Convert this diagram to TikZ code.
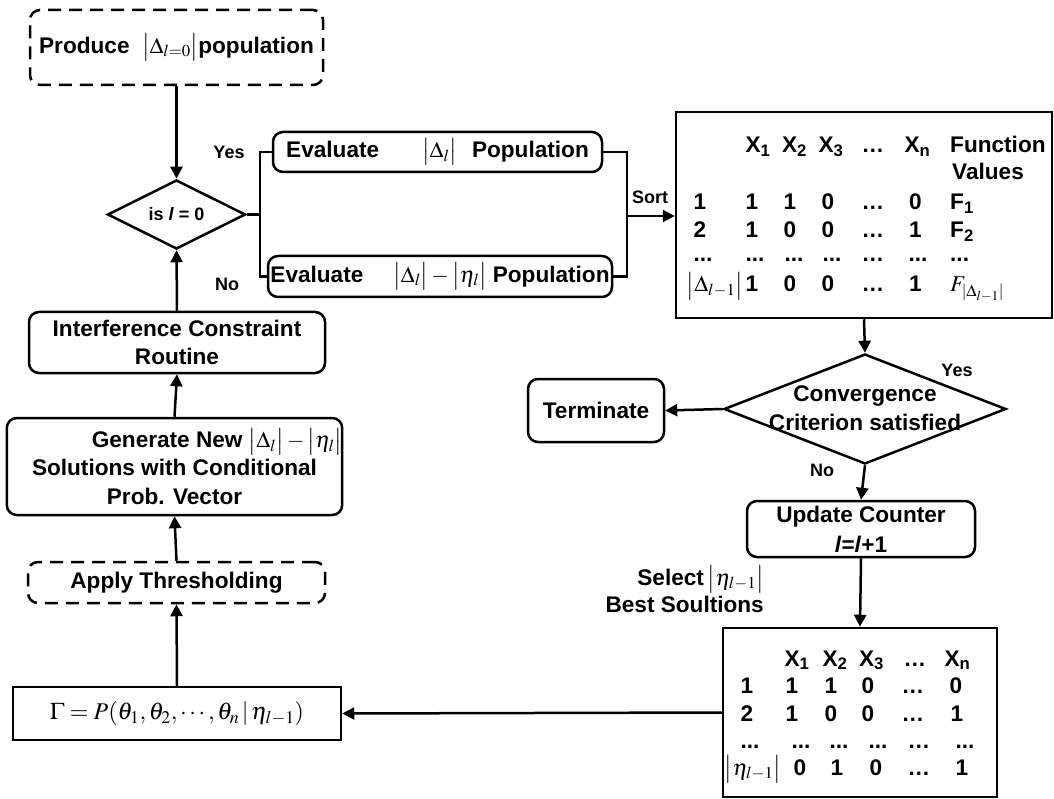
\documentclass[tikz,border=0pt]{standalone}
\usepackage{mathptmx}
\usepackage[no-math]{fontspec}
\setmainfont{Liberation Sans}
\usetikzlibrary{shapes.geometric,arrows.meta}

\newcommand{\tridot}{...}
\newcommand{\card}[1]{\bigl|#1\bigr|}

\tikzset{
  txt/.style={font=\bfseries\fontsize{22.6}{28.5}\selectfont},
  tagfont/.style={font=\bfseries\fontsize{18}{20}\selectfont},
  box/.style={draw, line width=2.5pt, rounded corners=10pt, inner sep=0pt, align=center, txt},
  dbox/.style={box, dash pattern=on 13pt off 8pt},
  sqbox/.style={draw, line width=2.5pt, inner sep=0pt},
  test/.style={draw, diamond, line width=2.5pt, inner sep=0pt},
  flow/.style={line width=2.5pt, -{Triangle[length=12pt,width=12pt]}},
  wire/.style={line width=2.5pt},
  cell/.style={txt, anchor=base, inner sep=0pt},
  lcell/.style={txt, anchor=base west, inner sep=0pt}
}

\begin{document}
\begin{tikzpicture}[x=1pt,y=-1pt]
\useasboundingbox (0,0) rectangle (1054,799);

% left column
\node[dbox, minimum width=293, minimum height=75] (produce) at (176.5,47.5) {Produce\ \ $\card{\Delta_{l=0}}$population};
\node[test, tagfont, minimum width=138, minimum height=69] (isl) at (176.5,214.5) {is \textit{l} = 0};
\node[box, minimum width=296, minimum height=61] (interf) at (177,342.5) {Interference Constraint\\Routine};
\node[box, minimum width=333, minimum height=97] (gen) at (174.5,466.5) {\hspace*{85pt}Generate New $\card{\Delta_l}-\card{\eta_l}$\\Solutions with Conditional\\Prob. Vector};
\node[dbox, minimum width=297, minimum height=41] (apply) at (176.5,582.5) {Apply Thresholding};
\node[sqbox, minimum width=328, minimum height=53, font=\fontsize{24}{28}\selectfont] (gamma) at (177,713.5) {$\Gamma=P(\theta_1,\theta_2,\cdots,\theta_n\,|\,\eta_{l-1})$};

% the two evaluations
\node[box, minimum width=329, minimum height=40] (evalA) at (437.5,152) {Evaluate\hspace{43pt}$\card{\Delta_l}$\hspace{15pt}Population};
\node[box, minimum width=344, minimum height=41] (evalB) at (440,276.5) {Evaluate\hspace{30pt}$\card{\Delta_l}-\card{\eta_l}$\hspace{6pt}Population};

% right column
\node[sqbox, minimum width=376, minimum height=206] (sorted) at (864,215) {};
\node[test, minimum width=282, minimum height=110] (conv) at (865,409) {};
\node[txt, align=center] (conv-txt) at (865,408) {Convergence\\Criterion satisfied};
\node[box, minimum width=136, minimum height=63] (term) at (596,410.5) {Terminate};
\node[box, minimum width=228, minimum height=56, font=\bfseries\fontsize{22.6}{30}\selectfont] (update) at (861,529) {Update Counter\\\textit{l}=\textit{l}+1};
\node[sqbox, minimum width=274, minimum height=169] (best) at (860,712.5) {};

% branch labels
\node[tagfont] (yes1) at (229,152) {Yes};
\node[tagfont] (no1) at (227,284) {No};
\node[tagfont] (sort) at (650,197) {Sort};
\node[tagfont] (yes2) at (957,370) {Yes};
\node[tagfont] (no2) at (822,470) {No};
\node[txt, anchor=base east, inner sep=0pt] (select) at (764,585) {Select\,$\card{\eta_{l-1}}$};
\node[txt, anchor=base east, inner sep=0pt] (select2) at (764,612) {Best Soultions};

% sorted population
\foreach \x/\t [count=\k] in {758/X\textsubscript{1}, 794.5/X\textsubscript{2}, 831/X\textsubscript{3}, 873/\dots, 917.5/X\textsubscript{n}}
  \node[cell] (sh-\k) at (\x,153) {\t};
\node[lcell] (sh-f) at (950,153) {Function};
\node[lcell] (sh-v) at (952,180) {Values};
\foreach \x/\t [count=\k] in {700/1, 752/1, 790/1, 828/0, 873/\dots, 915.5/0}
  \node[cell] (sa-\k) at (\x,210) {\t};
\node[lcell] (sa-f) at (950,210) {F\textsubscript{1}};
\foreach \x/\t [count=\k] in {700/2, 752/1, 790/0, 828/0, 873/\dots, 915.5/1}
  \node[cell] (sb-\k) at (\x,238) {\t};
\node[lcell] (sb-f) at (950,238) {F\textsubscript{2}};
\foreach \x/\t [count=\k] in {703/\tridot, 755/\tridot, 794/\tridot, 832/\tridot, 873/\dots, 918/\tridot}
  \node[cell] (sc-\k) at (\x,262) {\t};
\node[lcell] (sc-f) at (950,262) {\tridot};
\foreach \x/\t [count=\k] in {715/$\card{\Delta_{l-1}}$, 752/1, 790/0, 828/0, 873/\dots, 915.5/1}
  \node[cell] (sd-\k) at (\x,292) {\t};
\node[lcell, font=\fontsize{22.6}{26}\selectfont] (sd-f) at (950,292) {$F_{\left|\Delta_{l-1}\right|}$};

% selected best solutions
\foreach \x/\t [count=\k] in {797/X\textsubscript{1}, 835/X\textsubscript{2}, 871.5/X\textsubscript{3}, 915/\dots, 957.5/X\textsubscript{n}}
  \node[cell] (bh-\k) at (\x,666) {\t};
\foreach \x/\t [count=\k] in {747/1, 792/1, 831/1, 868/0, 913/\dots, 956/0}
  \node[cell] (ba-\k) at (\x,693) {\t};
\foreach \x/\t [count=\k] in {747/2, 792/1, 831/0, 868/0, 913/\dots, 957/1}
  \node[cell] (bb-\k) at (\x,721) {\t};
\foreach \x/\t [count=\k] in {750/\tridot, 801/\tridot, 839/\tridot, 878/\tridot, 919/\dots, 965/\tridot}
  \node[cell] (bc-\k) at (\x,748) {\t};
\foreach \x/\t [count=\k] in {753/$\card{\eta_{l-1}}$, 800/0, 837/1, 876/0, 919/\dots, 962/1}
  \node[cell] (bd-\k) at (\x,775) {\t};

% connectors
\coordinate (fork) at (260,214.5);
\coordinate (join) at (627,216);
\draw[flow] (produce.south) -- (isl.north);
\draw[flow] (interf.north) -- (isl.south);
\draw[flow] (gen.north) -- (interf.south);
\draw[flow] (apply.north) -- (gen.south);
\draw[flow] (gamma.north) -- (apply.south);
\draw[wire] (isl.east) -- (fork);
\draw[wire] (evalA.west) -| (fork) |- (evalB.west);
\draw[wire] (evalA.east) -| (join) |- (evalB.east);
\draw[flow] (join) -- (join -| sorted.west);
\draw[flow] (sorted.south) -- (conv.north);
\draw[flow] (conv.west) -- (term.east);
\draw[flow] (conv.south) -- (update.north);
\draw[flow] (update.south) -- (best.north);
\draw[flow] (best.west) -- (gamma.east);
\end{tikzpicture}
\end{document}
